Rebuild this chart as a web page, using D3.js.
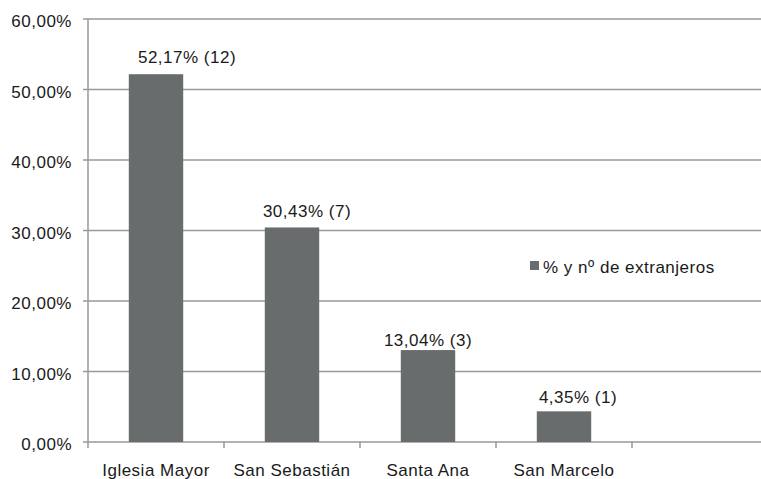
<!DOCTYPE html>
<html>
<head>
<meta charset="utf-8">
<script src="https://cdn.jsdelivr.net/npm/d3@7"></script>
<style>
  body { margin: 0; background: #fff; }
  svg { display: block; overflow: hidden; }
  text { font-family: "Liberation Sans", Arial, sans-serif; font-size: 17px; letter-spacing: 0.5px; fill: #1a1a1a; }
</style>
</head>
<body>
<svg id="chart"></svg>
<script>
// data
const categories = ["Iglesia Mayor", "San Sebastián", "Santa Ana", "San Marcelo", ""];
const percents = [52.17, 30.43, 13.04, 4.35];
const counts = [12, 7, 3, 1];
const yTicks = [0, 10, 20, 30, 40, 50, 60];
const seriesName = "% y nº de extranjeros";

// labels were nudged by hand in the original
const labelDx = [31, 15, 0, 14];
const labelDy = [-11, -10, -4, -8];

const width = 761;
const height = 479;
const plotLeft = 88, plotRight = 768, plotTop = 19, plotBottom = 442;

const es = d3.formatLocale({ decimal: ",", thousands: ".", grouping: [3], currency: ["", "€"] });
const pct = es.format(".2f");

const svg = d3.select('#chart')
  .attr('width', width)
  .attr('height', height);

const x = d3.scaleBand()
  .domain(categories)
  .range([plotLeft, plotRight])
  .padding(0);

const y = d3.scaleLinear()
  .domain([0, 60])
  .range([plotBottom, plotTop]);

const gridColor = '#999';

// horizontal gridlines
svg.append('g')
  .selectAll('line')
  .data(yTicks)
  .enter()
  .append('line')
  .attr('x1', plotLeft - 5)
  .attr('x2', plotRight)
  .attr('y1', d => y(d))
  .attr('y2', d => y(d))
  .attr('stroke', gridColor)
  .attr('stroke-width', 1.5);

// y axis
const yAxis = d3.axisLeft(y)
  .tickValues(yTicks)
  .tickSize(5)
  .tickPadding(11)
  .tickFormat(d => pct(d) + '%');

const gy = svg.append('g')
  .attr('transform', `translate(${plotLeft},0)`)
  .call(yAxis);
gy.select('.domain').remove();
gy.selectAll('line').attr('stroke', 'none');
gy.selectAll('text')
  .attr('dy', '0.45em')
  .attr('fill', '#1a1a1a')
  .style('font-family', '"Liberation Sans", Arial, sans-serif')
  .style('font-size', '17px');

svg.append('line')
  .attr('x1', plotLeft).attr('x2', plotLeft)
  .attr('y1', plotTop).attr('y2', plotBottom + 6)
  .attr('stroke', gridColor)
  .attr('stroke-width', 1.5);

// x axis ticks on slot boundaries
svg.append('g')
  .selectAll('line')
  .data(categories.slice(1))
  .enter()
  .append('line')
  .attr('x1', d => x(d))
  .attr('x2', d => x(d))
  .attr('y1', plotBottom)
  .attr('y2', plotBottom + 6)
  .attr('stroke', gridColor)
  .attr('stroke-width', 1.5);

const xAxis = d3.axisBottom(x).tickSize(0).tickPadding(22);
const gx = svg.append('g')
  .attr('transform', `translate(0,${plotBottom})`)
  .call(xAxis);
gx.select('.domain').remove();
gx.selectAll('text')
  .attr('fill', '#1a1a1a')
  .style('font-family', '"Liberation Sans", Arial, sans-serif')
  .style('font-size', '17px');

// bars
const barW = x.bandwidth() * 0.4;
svg.append('g')
  .selectAll('rect')
  .data(percents)
  .enter()
  .append('rect')
  .attr('x', (d, i) => x(categories[i]) + (x.bandwidth() - barW) / 2)
  .attr('y', d => y(d))
  .attr('width', barW)
  .attr('height', d => y(0) - y(d))
  .attr('fill', '#686c6c');

// value labels
svg.append('g')
  .selectAll('text')
  .data(percents)
  .enter()
  .append('text')
  .attr('text-anchor', 'middle')
  .attr('x', (d, i) => x(categories[i]) + x.bandwidth() / 2 + labelDx[i])
  .attr('y', (d, i) => y(d) + labelDy[i])
  .text((d, i) => `${pct(d)}% (${counts[i]})`);

// legend
const legend = svg.append('g').attr('transform', 'translate(530,261)');
legend.append('rect')
  .attr('width', 9)
  .attr('height', 9)
  .attr('fill', '#686c6c');
legend.append('text')
  .attr('x', 13)
  .attr('y', 12)
  .text(seriesName);
</script>
</body>
</html>
